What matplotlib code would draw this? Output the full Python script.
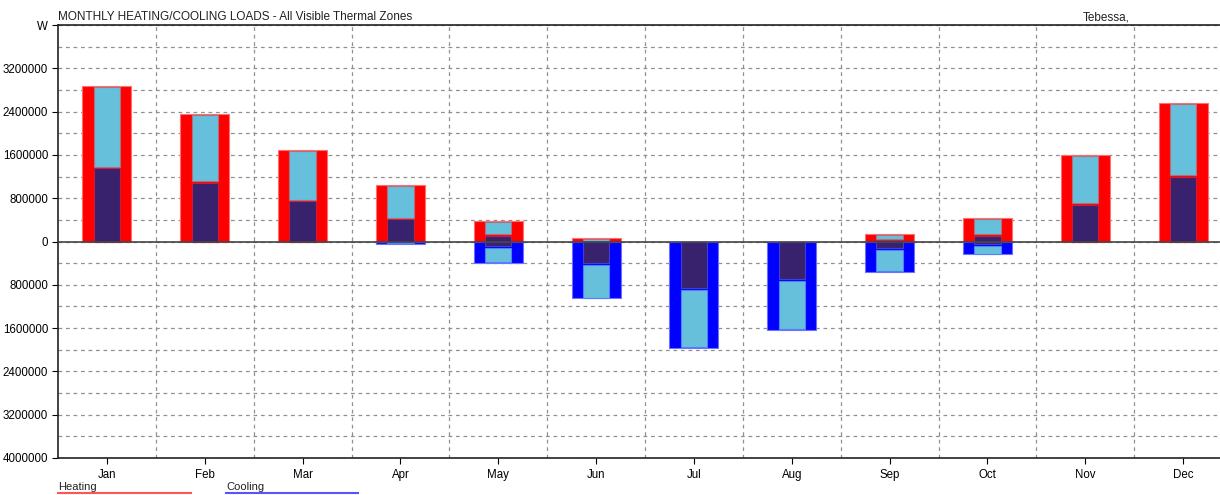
import matplotlib.pyplot as plt
from matplotlib.ticker import MultipleLocator, FixedLocator

plt.rcParams['font.family'] = ['Liberation Sans', 'DejaVu Sans']

# monthly loads in W
months = ['Jan', 'Feb', 'Mar', 'Apr', 'May', 'Jun', 'Jul', 'Aug', 'Sep', 'Oct', 'Nov', 'Dec']
heat_total = [2870000, 2350000, 1690000, 1040000, 380000, 60000, 0, 0, 135000, 430000, 1595000, 2556000]
heat_part = [1355000, 1090000, 745000, 410000, 100000, 0, 0, 0, 20000, 110000, 680000, 1190000]
cool_total = [0, 0, 0, 50000, 395000, 1050000, 1960000, 1630000, 560000, 240000, 0, 0]
cool_part = [0, 0, 0, 0, 90000, 400000, 860000, 700000, 125000, 50000, 0, 0]

RED = '#ff0000'
BLUE = '#0000ff'
LIGHT = '#66bfdb'
DARK = '#39226d'

fig = plt.figure(figsize=(12.2, 4.95), dpi=100)
ax = fig.add_axes([58/1220, 37/495, 1174/1220, 433/495])

x = range(len(months))
gap = 30000
for i in x:
    ht, hp = heat_total[i], heat_part[i]
    ct, cp = cool_total[i], cool_part[i]
    if ht > 0:
        ax.bar(i, ht, width=0.5, color=RED, edgecolor='#ff7070', linewidth=0.8, zorder=3)
        if hp > 0:
            ax.bar(i, hp, width=0.27, color=DARK, edgecolor='#c02040', linewidth=0.8, zorder=4)
        top = ht - 15000
        bot = hp + gap if hp > 0 else 15000
        if top > bot:
            ax.bar(i, top - bot, bottom=bot, width=0.27, color=LIGHT,
                   edgecolor='#b07080', linewidth=0.8, zorder=4)
    if ct > 0:
        ax.bar(i, -ct, width=0.5, color=BLUE, edgecolor='#7070ff', linewidth=0.8, zorder=3)
        if cp > 0:
            ax.bar(i, -cp, width=0.27, color=DARK, edgecolor='#4040d0', linewidth=0.8, zorder=4)
        top = -(cp + gap) if cp > 0 else -15000
        bot = -(ct - 15000)
        if top > bot:
            ax.bar(i, bot - top, bottom=top, width=0.27, color=LIGHT,
                   edgecolor='#5080ff', linewidth=0.8, zorder=4)

ax.axhline(0, color='#444444', lw=1.2, zorder=5)

ax.set_xlim(-0.5, 11.5)
ax.set_ylim(-4000000, 4000000)

yt = list(range(-4000000, 4000001, 800000))
ax.yaxis.set_major_locator(FixedLocator(yt))
labels = [str(abs(v)) for v in yt]
labels[-1] = 'W'
ax.set_yticklabels(labels)
ax.yaxis.set_minor_locator(MultipleLocator(400000))
ax.yaxis.grid(True, which='both', ls=(0, (3, 3)), color='#909090', lw=0.9, zorder=0)
ax.tick_params(axis='y', which='minor', length=0)
ax.tick_params(axis='y', which='major', length=4, width=0.8, labelsize=8.3, pad=3)

ax.set_xticks(list(x))
ax.set_xticklabels(months)
ax.xaxis.set_minor_locator(FixedLocator([i + 0.5 for i in x]))
ax.xaxis.grid(True, which='minor', ls=(0, (3, 3)), color='#909090', lw=0.9, zorder=0)
ax.tick_params(axis='x', which='minor', length=0)
ax.tick_params(axis='x', which='major', length=4, width=0.8, labelsize=8.3, pad=4)

for s in ['left', 'bottom', 'top']:
    ax.spines[s].set_color('#222222')
    ax.spines[s].set_linewidth(1.2)
ax.spines['right'].set_visible(False)

fig.text(58/1220, 1 - 17/495, 'MONTHLY HEATING/COOLING LOADS - All Visible Thermal Zones',
         fontsize=8.5, va='center', ha='left', color='#222222')
fig.text(1106/1220, 1 - 17/495, 'Tebessa,', fontsize=8.5, va='center', ha='center', color='#222222')

# legend strip below the axis
fig.text(58/1220, 1 - 487/495, 'Heating', fontsize=8, va='center', ha='left', color='#222222')
fig.text(226/1220, 1 - 487/495, 'Cooling', fontsize=8, va='center', ha='left', color='#222222')
fig.add_artist(plt.Line2D([58/1220, 191/1220], [1 - 493/495] * 2, color='#ff5555', lw=1.5))
fig.add_artist(plt.Line2D([226/1220, 358/1220], [1 - 493/495] * 2, color='#5555ff', lw=1.5))

fig.savefig('out.png', dpi=100)
